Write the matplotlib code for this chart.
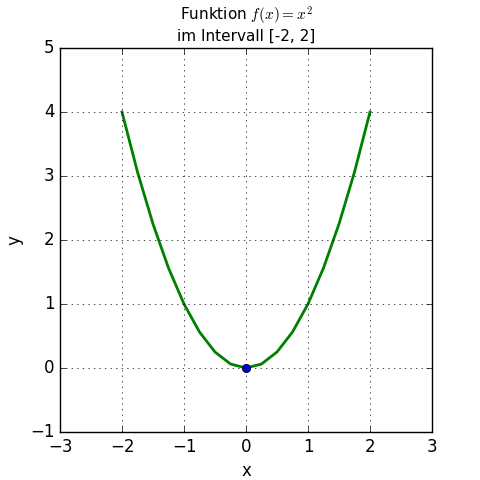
import matplotlib
matplotlib.use("Agg")
import matplotlib.pyplot as plt

plt.style.use("classic")

x_values = [-2.0, -1.75, -1.5, -1.25, -1.0, -0.75, -0.5, -0.25, 0.0,
            0.25, 0.5, 0.75, 1.0, 1.25, 1.5, 1.75, 2.0]
y_values = [4.0, 3.0625, 2.25, 1.5625, 1.0, 0.5625, 0.25, 0.0625, 0.0,
            0.0625, 0.25, 0.5625, 1.0, 1.5625, 2.25, 3.0625, 4.0]
min_point = (0.0, 0.0)

fig, ax = plt.subplots(figsize=(4.8, 4.8), dpi=100)
fig.patch.set_facecolor("white")
ax.plot(x_values, y_values, color="green", linewidth=2)
ax.plot([min_point[0]], [min_point[1]], "o", color="blue", markersize=6)
ax.set_xlim(-3, 3)
ax.set_ylim(-1, 5)
ax.set_xlabel("x")
ax.set_ylabel("y")
ax.set_title("Funktion $f(x) = x^2$\nim Intervall [-2, 2]", fontsize=11)
ax.grid(True, linestyle=":", color="black")
fig.subplots_adjust(left=0.125, right=0.9, bottom=0.1, top=0.9)
fig.savefig("out.png", dpi=100, facecolor="white")
